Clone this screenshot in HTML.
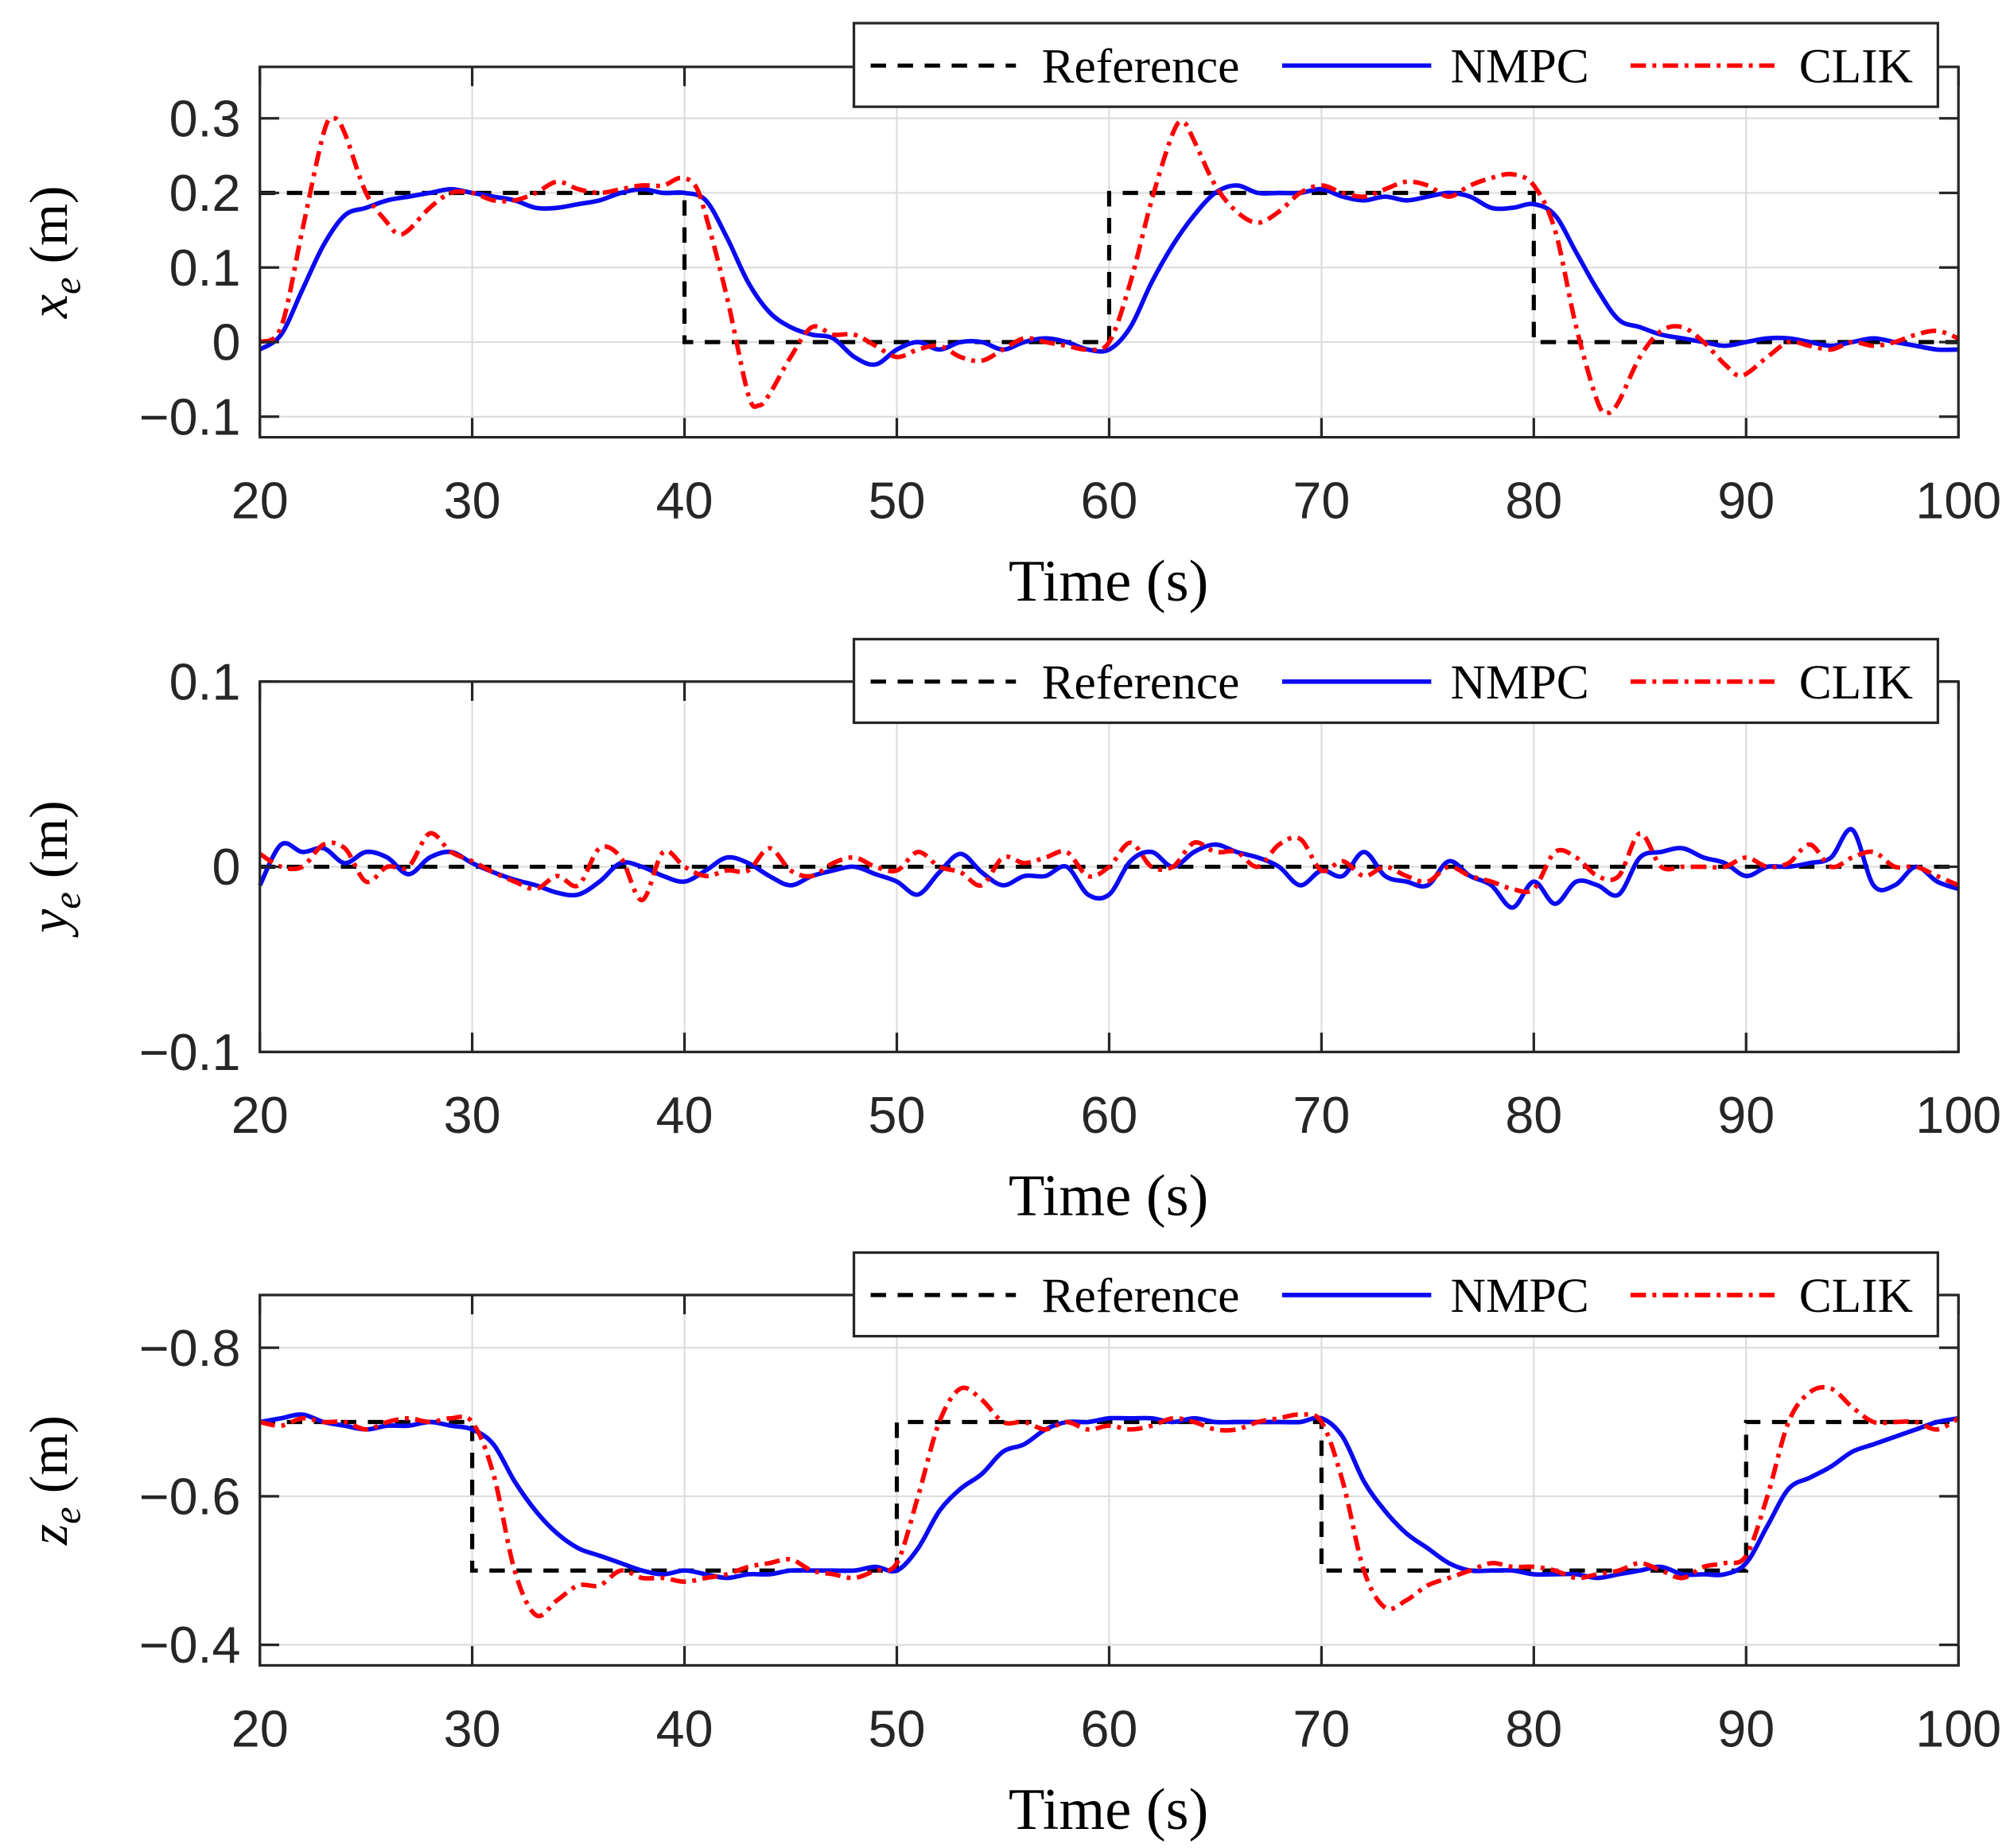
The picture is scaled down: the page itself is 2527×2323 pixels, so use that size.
<!DOCTYPE html>
<html><head><meta charset="utf-8"><style>
html,body{margin:0;padding:0;background:#fff;}
svg{display:block;}
.tick{font-family:"Liberation Sans",sans-serif;font-size:40px;fill:#262626;}
.ser{font-family:"Liberation Serif",serif;fill:#000;}
</style></head><body>
<svg id="fig" width="2527" height="2323" viewBox="0 0 1563 1437" xmlns="http://www.w3.org/2000/svg"></svg>
<script>
// ---------- DATA ----------
const xTicks = [20,30,40,50,60,70,80,90,100];
const tX = [20,21,22,23,24,25,26,27,28,29,30,31,32,33,34,35,36,37,38,39,40,41,42,43,44,45,46,47,48,49,50,51,52,53,54,55,56,57,58,59,60,61,62,63,64,65,66,67,68,69,70,71,72,73,74,75,76,77,78,79,80,81,82,83,84,85,86,87,88,89,90,91,92,93,94,95,96,97,98,99,100];
const xNMPC = [-0.01,0.01,0.07,0.13,0.17,0.18,0.19,0.195,0.2,0.205,0.2,0.195,0.19,0.18,0.18,0.185,0.19,0.2,0.205,0.2,0.2,0.19,0.14,0.08,0.04,0.02,0.01,0.005,-0.02,-0.03,-0.01,0.0,-0.01,0.0,0.0,-0.01,0.0,0.005,0.0,-0.01,-0.01,0.02,0.08,0.13,0.17,0.2,0.21,0.2,0.2,0.2,0.205,0.195,0.19,0.195,0.19,0.195,0.2,0.195,0.18,0.18,0.185,0.17,0.12,0.07,0.03,0.02,0.01,0.005,0.0,-0.005,0.0,0.005,0.005,0.0,-0.005,0.0,0.005,0.0,-0.005,-0.01,-0.01];
const tXC = [20,21,22,23,23.5,24,25,26,26.5,27,28,29,30,31,32,33,34,35,36,37,38,39,39.8,40.5,41,42,43,43.5,44,45,46,47,48,49,50,51,52,53,54,55,56,57,58,59,60,61,62,63,63.5,64,65,66,67,68,69,70,71,72,73,74,75,76,77,78,79,80,81,82,83,83.5,84,85,86,87,88,89,89.8,91,92,93,94,95,96,97,98,99,100];
const xCLIK = [0.0,0.02,0.15,0.28,0.3,0.28,0.2,0.16,0.145,0.15,0.18,0.2,0.2,0.19,0.19,0.2,0.215,0.205,0.2,0.205,0.21,0.21,0.22,0.21,0.17,0.06,-0.07,-0.085,-0.07,-0.02,0.02,0.01,0.01,-0.005,-0.02,-0.01,-0.005,-0.02,-0.025,-0.01,0.005,0.0,-0.005,-0.01,0.0,0.08,0.19,0.28,0.295,0.27,0.21,0.175,0.16,0.175,0.2,0.21,0.2,0.195,0.205,0.215,0.21,0.195,0.21,0.22,0.225,0.21,0.15,0.02,-0.08,-0.095,-0.08,-0.02,0.015,0.02,0.0,-0.03,-0.045,-0.02,0.0,-0.005,-0.01,0.0,-0.005,0.0,0.01,0.015,0.005];
const xRefT = [20,40,40,60,60,80,80,100];
const xRefV = [0.2,0.2,0,0,0.2,0.2,0,0];

const yNMPC = [-0.01,0.012,0.008,0.01,0.002,0.008,0.005,-0.004,0.005,0.008,0.002,-0.003,-0.007,-0.01,-0.014,-0.015,-0.008,0.002,0.0,-0.005,-0.008,-0.002,0.005,0.002,-0.005,-0.01,-0.005,-0.002,0.0,-0.004,-0.008,-0.015,-0.003,0.007,-0.003,-0.01,-0.005,-0.005,0.0,-0.015,-0.015,0.003,0.008,0.0,0.008,0.012,0.008,0.005,0.0,-0.01,-0.002,-0.005,0.008,-0.005,-0.008,-0.01,0.003,-0.005,-0.01,-0.022,-0.008,-0.02,-0.008,-0.01,-0.015,0.005,0.008,0.01,0.005,0.002,-0.005,0.0,0.0,0.002,0.005,0.02,-0.01,-0.01,0.0,-0.008,-0.012];
const yCLIK = [0.007,0.0,0.0,0.012,0.01,-0.008,0.0,0.0,0.018,0.008,0.003,-0.003,-0.008,-0.012,-0.005,-0.01,0.01,0.005,-0.018,0.008,0.0,-0.005,-0.002,-0.002,0.01,-0.002,-0.005,0.002,0.005,0.0,-0.002,0.008,0.0,-0.003,-0.01,0.005,0.002,0.005,0.008,-0.005,0.0,0.013,0.0,0.0,0.013,0.008,0.008,0.0,0.012,0.015,-0.002,0.003,-0.005,0.0,-0.005,-0.008,0.0,-0.005,-0.008,-0.012,-0.012,0.008,0.005,-0.005,-0.005,0.018,0.0,0.0,0.0,0.0,0.005,0.0,0.002,0.012,0.0,0.005,0.008,0.0,0.0,-0.005,-0.01];
const yRefT = [20,100];
const yRefV = [0,0];

const zNMPC = [-0.7,-0.705,-0.71,-0.7,-0.695,-0.69,-0.695,-0.695,-0.7,-0.695,-0.69,-0.67,-0.62,-0.58,-0.55,-0.53,-0.52,-0.51,-0.5,-0.495,-0.5,-0.495,-0.49,-0.495,-0.495,-0.5,-0.5,-0.5,-0.5,-0.505,-0.5,-0.53,-0.58,-0.61,-0.63,-0.66,-0.67,-0.69,-0.7,-0.7,-0.705,-0.705,-0.705,-0.7,-0.705,-0.7,-0.7,-0.7,-0.7,-0.7,-0.705,-0.68,-0.62,-0.58,-0.55,-0.53,-0.51,-0.5,-0.5,-0.5,-0.495,-0.495,-0.495,-0.49,-0.495,-0.5,-0.505,-0.495,-0.495,-0.495,-0.51,-0.56,-0.61,-0.625,-0.64,-0.66,-0.67,-0.68,-0.69,-0.7,-0.705];
const zCLIK = [-0.7,-0.695,-0.705,-0.7,-0.7,-0.69,-0.7,-0.705,-0.7,-0.705,-0.7,-0.63,-0.5,-0.44,-0.46,-0.48,-0.48,-0.5,-0.49,-0.49,-0.485,-0.49,-0.495,-0.505,-0.51,-0.515,-0.5,-0.495,-0.49,-0.5,-0.51,-0.6,-0.7,-0.745,-0.73,-0.7,-0.7,-0.69,-0.7,-0.69,-0.695,-0.69,-0.695,-0.705,-0.7,-0.69,-0.69,-0.7,-0.705,-0.71,-0.7,-0.62,-0.5,-0.45,-0.46,-0.48,-0.49,-0.5,-0.51,-0.505,-0.505,-0.5,-0.49,-0.495,-0.5,-0.51,-0.5,-0.49,-0.505,-0.51,-0.52,-0.6,-0.7,-0.74,-0.745,-0.72,-0.7,-0.7,-0.7,-0.69,-0.705];
const zRefT = [20,30,30,50,50,70,70,90,90,100];
const zRefV = [-0.7,-0.7,-0.5,-0.5,-0.7,-0.7,-0.5,-0.5,-0.7,-0.7];

const yTicks1 = [-0.1,0,0.1,0.2,0.3];
const yTickLabels1 = ["\u22120.1","0","0.1","0.2","0.3"];
const yTicks2 = [-0.1,0,0.1];
const yTickLabels2 = ["\u22120.1","0","0.1"];
const yTicks3 = [-0.8,-0.6,-0.4];
const yTickLabels3 = ["\u22120.8","\u22120.6","\u22120.4"];

// ---------- DRAW ----------
const NS="http://www.w3.org/2000/svg";
const svg=document.getElementById('fig');
function mk(tag,attrs,parent){const e=document.createElementNS(NS,tag);for(const k in attrs)e.setAttribute(k,attrs[k]);(parent||svg).appendChild(e);return e;}
const L=202,R=1523;
function sx(t){return L+(t-20)/80*(R-L);}
function smoothPath(pts){
  let d='M'+pts[0][0].toFixed(2)+','+pts[0][1].toFixed(2);
  for(let i=0;i<pts.length-1;i++){
    const p0=pts[Math.max(0,i-1)],p1=pts[i],p2=pts[i+1],p3=pts[Math.min(pts.length-1,i+2)];
    const c1=[p1[0]+(p2[0]-p0[0])/6,p1[1]+(p2[1]-p0[1])/6];
    const c2=[p2[0]-(p3[0]-p1[0])/6,p2[1]-(p3[1]-p1[1])/6];
    d+='C'+c1.map(v=>v.toFixed(2))+' '+c2.map(v=>v.toFixed(2))+' '+p2.map(v=>v.toFixed(2));
  }
  return d;
}
function panel(idx,top,bot,vTop,vBot,yT,yTL,nT,nV,cT,cV,rT,rV,var_,legTop){
  const g=mk('g',{});
  
  
  const sy=v=>top+(v-vTop)/(vBot-vTop)*(bot-top);
  xTicks.forEach(t=>{const l=mk('line',{x1:sx(t),x2:sx(t),y1:top,y2:bot,stroke:'#dcdcdc','stroke-width':1.3},g);});
  yT.forEach(v=>{const l=mk('line',{x1:L,x2:R,y1:sy(v),y2:sy(v),stroke:'#dcdcdc','stroke-width':1.3},g);});
  let rp=rT.map((t,i)=>(i?'L':'M')+sx(t)+','+sy(rV[i])).join('');
  const ref=mk('path',{d:rp,fill:'none',stroke:'#000','stroke-width':3.2,'stroke-dasharray':'12,9'},g);
  
  const n=mk('path',{d:smoothPath(nT.map((t,i)=>[sx(t),sy(nV[i])])),fill:'none',stroke:'#0a0af0','stroke-width':3.5},g);
  
  const c=mk('path',{d:smoothPath(cT.map((t,i)=>[sx(t),sy(cV[i])])),fill:'none',stroke:'#ff0000','stroke-width':3.5,'stroke-dasharray':'12,5,3,5'},g);
  
  const box=mk('rect',{x:L,y:top,width:R-L,height:bot-top,fill:'none',stroke:'#262626','stroke-width':2},g);
  
  xTicks.forEach(t=>{
    mk('line',{x1:sx(t),x2:sx(t),y1:bot,y2:bot-15,stroke:'#262626','stroke-width':2},g);
    mk('line',{x1:sx(t),x2:sx(t),y1:top,y2:top+15,stroke:'#262626','stroke-width':2},g);
    const tx=mk('text',{x:sx(t),y:bot+63,'text-anchor':'middle',class:'tick'},g);tx.textContent=t;
    
  });
  yT.forEach((v,i)=>{
    mk('line',{x1:L,x2:L+15,y1:sy(v),y2:sy(v),stroke:'#262626','stroke-width':2},g);
    mk('line',{x1:R,x2:R-15,y1:sy(v),y2:sy(v),stroke:'#262626','stroke-width':2},g);
    const tx=mk('text',{x:187,y:sy(v)+14,'text-anchor':'end',class:'tick'},g);tx.textContent=yTL[i];
    
  });
  const xl=mk('text',{x:862,y:bot+127,'text-anchor':'middle',class:'ser','font-size':46},g);xl.textContent='Time (s)';
  
  const yl=mk('text',{transform:'translate(52,'+((top+bot)/2)+') rotate(-90)','text-anchor':'middle',class:'ser','font-size':42},g);
  
  const a=mk('tspan',{'font-style':'italic'},yl);a.textContent=var_;
  const b=mk('tspan',{'font-style':'italic','font-size':30,dy:10},yl);b.textContent='e';
  const cc=mk('tspan',{dy:-10},yl);cc.textContent=' (m)';
  const lg=mk('g',{},g);
  mk('rect',{x:664,y:legTop,width:843,height:65,fill:'#fff',stroke:'#262626','stroke-width':2},lg);
  const my=legTop+33;
  const e1=mk('line',{x1:677,x2:790,y1:my,y2:my,stroke:'#000','stroke-width':3.2,'stroke-dasharray':'12,9'},lg);
  
  let t1=mk('text',{x:810,y:my+13,class:'ser','font-size':38},lg);t1.textContent='Reference';
  
  const e2=mk('line',{x1:997,x2:1113,y1:my,y2:my,stroke:'#0a0af0','stroke-width':3.5},lg);
  
  let t2=mk('text',{x:1128,y:my+13,class:'ser','font-size':38},lg);t2.textContent='NMPC';
  
  const e3=mk('line',{x1:1268,x2:1384,y1:my,y2:my,stroke:'#ff0000','stroke-width':3.5,'stroke-dasharray':'12,5,3,5'},lg);
  
  let t3=mk('text',{x:1399,y:my+13,class:'ser','font-size':38},lg);t3.textContent='CLIK';
  
}
panel(1,52,340,0.3+40/58*0.1,-0.1-16/58*0.1,yTicks1,yTickLabels1,tX,xNMPC,tXC,xCLIK,xRefT,xRefV,'x',18);
panel(2,530,818,0.1,-0.1,yTicks2,yTickLabels2,tX,yNMPC,tX,yCLIK,yRefT,yRefV,'y',497);
panel(3,1007,1295,-0.8-41/577.5,-0.4+16/577.5,yTicks3,yTickLabels3,tX,zNMPC,tX,zCLIK,zRefT,zRefV,'z',974);
</script>
</body></html>
